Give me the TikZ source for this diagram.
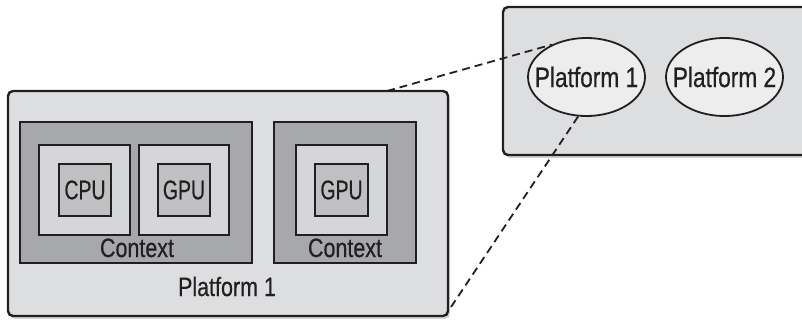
\documentclass[tikz,border=0pt]{standalone}
\usepackage{fontspec}
\setmainfont[FakeStretch=0.81,FakeBold=0.5]{Liberation Sans}
\newfontfamily\chipfont[FakeStretch=0.72,FakeBold=0.5]{Liberation Sans}
\usetikzlibrary{shapes.geometric,shadows}
\definecolor{outerfill}{RGB}{221,222,224}
\definecolor{ctxfill}{RGB}{167,168,171}
\definecolor{devfill}{RGB}{213,214,216}
\definecolor{chipfill}{RGB}{191,192,194}
\definecolor{ellfill}{RGB}{237,237,238}
\definecolor{linec}{RGB}{35,31,32}
\tikzset{
  outerbox/.style={draw=linec, line width=2.4pt, fill=outerfill, rounded corners=5pt, inner sep=0pt,
    drop shadow={shadow xshift=2pt, shadow yshift=-3pt, opacity=0.35}},
  ctxbox/.style={draw=linec, line width=2pt, fill=ctxfill, inner sep=0pt},
  devbox/.style={draw=linec, line width=2.2pt, fill=devfill, inner sep=0pt},
  chipbox/.style={draw=linec, line width=1.8pt, fill=chipfill, inner sep=0pt, text=linec,
    font=\chipfont\fontsize{27}{30}\selectfont},
  plat/.style={draw=linec, line width=1.8pt, fill=ellfill, ellipse, inner sep=0pt,
    minimum width=117pt, minimum height=78pt, text=linec, font=\fontsize{28}{32}\selectfont},
  lbl/.style={anchor=base, text=linec, inner sep=0pt, font=\fontsize{26.5}{30}\selectfont},
  link/.style={draw=linec, line width=1.8pt, dash pattern=on 8pt off 5pt}
}
\begin{document}
\begin{tikzpicture}[x=1pt,y=-1pt]
\useasboundingbox (0,0) rectangle (802,321);
% right box
\node[outerbox, minimum width=340pt, minimum height=148pt] (rbox) at (673,81) {};
\node[plat] (p1) at (586.5,77) {\makebox[0pt]{Platform 1}};
\node[plat] (p2) at (724.5,77) {\makebox[0pt]{Platform 2}};
% left box
\node[outerbox, minimum width=440pt, minimum height=225pt] (lbox) at (228,203.5) {};
\node[ctxbox, minimum width=232pt, minimum height=141pt] (c1) at (136,192.5) {};
\node[ctxbox, minimum width=142pt, minimum height=141pt] (c2) at (345,192.5) {};
\node[devbox, minimum width=91pt, minimum height=90pt] (d1) at (84.5,190) {};
\node[devbox, minimum width=90pt, minimum height=90pt] (d2) at (184,190) {};
\node[devbox, minimum width=91pt, minimum height=90pt] (d3) at (341.5,190) {};
\node[chipbox, minimum width=52pt, minimum height=52pt] (cpu) at (85,190) {CPU};
\node[chipbox, minimum width=52pt, minimum height=52pt] (gpu1) at (184,190) {GPU};
\node[chipbox, minimum width=53pt, minimum height=52pt] (gpu2) at (341.5,190) {GPU};
\node[lbl] (ct1) at (137,257) {Context};
\node[lbl] (ct2) at (345,257) {Context};
\node[lbl] (pl) at (227,296) {Platform 1};
% links
\coordinate (ltop) at (387,91);
\coordinate (lcorner) at (449,310);
\draw[link] (ltop) -- (p1.137);
\draw[link] (p1.258) -- (lcorner);
\end{tikzpicture}
\end{document}
